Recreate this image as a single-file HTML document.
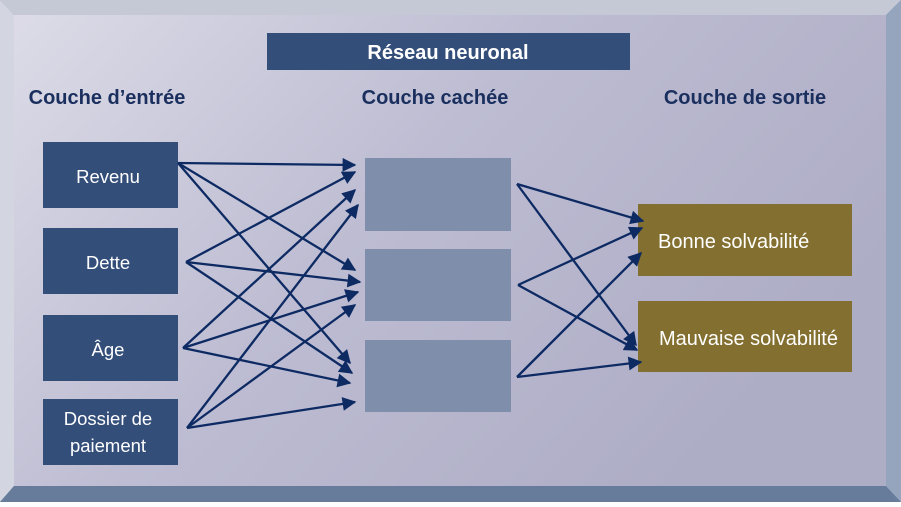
<!DOCTYPE html>
<html><head><meta charset="utf-8"><style>
body{margin:0;width:901px;height:502px;overflow:hidden;font-family:"Liberation Sans",sans-serif;}
</style></head><body>
<svg width="901" height="502" xmlns="http://www.w3.org/2000/svg">
<defs>
<linearGradient id="bg" x1="0" y1="0" x2="1" y2="0.5">
<stop offset="0" stop-color="#dcdbe7"/><stop offset="0.5" stop-color="#bdbcd2"/><stop offset="1" stop-color="#aeadc6"/>
</linearGradient>
<marker id="a" viewBox="0 0 10 10" refX="9" refY="5" markerWidth="8" markerHeight="6" orient="auto" markerUnits="strokeWidth">
<path d="M0,0 L10,5 L0,10 z" fill="#0d2a63"/></marker>
</defs>
<rect width="901" height="502" fill="#8a9ab4"/>
<polygon points="0,0 901,0 886,15 14,15" fill="#c5c9d6"/>
<polygon points="0,0 14,15 14,486 0,502" fill="#d3d6e0"/>
<polygon points="0,502 14,486 886,486 901,502" fill="#667c9a"/>
<polygon points="901,0 886,15 886,486 901,502" fill="#95a5bd"/>
<rect x="14" y="15" width="872" height="471" fill="url(#bg)"/>
<rect x="267" y="33" width="363" height="37" fill="#344e7a"/>
<text x="448" y="59" fill="#fff" font-size="20" font-weight="bold" text-anchor="middle">Réseau neuronal</text>
<g fill="#1a2f5e" font-size="20" font-weight="bold" text-anchor="middle">
<text x="107" y="104">Couche d’entrée</text>
<text x="435" y="104">Couche cachée</text>
<text x="745" y="104">Couche de sortie</text>
</g>
<g fill="#344e7a">
<rect x="43" y="142" width="135" height="66"/>
<rect x="43" y="228" width="135" height="66"/>
<rect x="43" y="315" width="135" height="66"/>
<rect x="43" y="399" width="135" height="66"/>
</g>
<g fill="#7f8fab">
<rect x="365" y="158" width="146" height="73"/>
<rect x="365" y="249" width="146" height="72"/>
<rect x="365" y="340" width="146" height="72"/>
</g>
<g fill="#836f2f">
<rect x="638" y="204" width="214" height="72"/>
<rect x="638" y="301" width="214" height="71"/>
</g>
<g fill="#fff" font-size="18.5" text-anchor="middle">
<text x="108" y="183">Revenu</text>
<text x="108" y="269">Dette</text>
<text x="108" y="356">Âge</text>
<text x="108" y="425">Dossier de</text>
<text x="108" y="452">paiement</text>
</g>
<g fill="#fff" font-size="20">
<text x="658" y="248">Bonne solvabilité</text>
<text x="659" y="345">Mauvaise solvabilité</text>
</g>
<g stroke="#0d2a63" stroke-width="2.3" fill="none" marker-end="url(#a)">
<line x1="178" y1="163" x2="355" y2="165"/>
<line x1="178" y1="163" x2="355" y2="270"/>
<line x1="178" y1="163" x2="350" y2="363"/>
<line x1="186" y1="262" x2="355" y2="172"/>
<line x1="186" y1="262" x2="360" y2="282"/>
<line x1="186" y1="262" x2="352" y2="373"/>
<line x1="183" y1="348" x2="355" y2="190"/>
<line x1="183" y1="348" x2="358" y2="292"/>
<line x1="183" y1="348" x2="350" y2="383"/>
<line x1="187" y1="428" x2="358" y2="205"/>
<line x1="187" y1="428" x2="355" y2="305"/>
<line x1="187" y1="428" x2="355" y2="402"/>
<line x1="517" y1="184" x2="643" y2="221"/>
<line x1="517" y1="184" x2="636" y2="345"/>
<line x1="518" y1="285" x2="642" y2="228"/>
<line x1="518" y1="285" x2="637" y2="350"/>
<line x1="517" y1="377" x2="641" y2="253"/>
<line x1="517" y1="377" x2="641" y2="362"/>
</g>
</svg>
</body></html>
